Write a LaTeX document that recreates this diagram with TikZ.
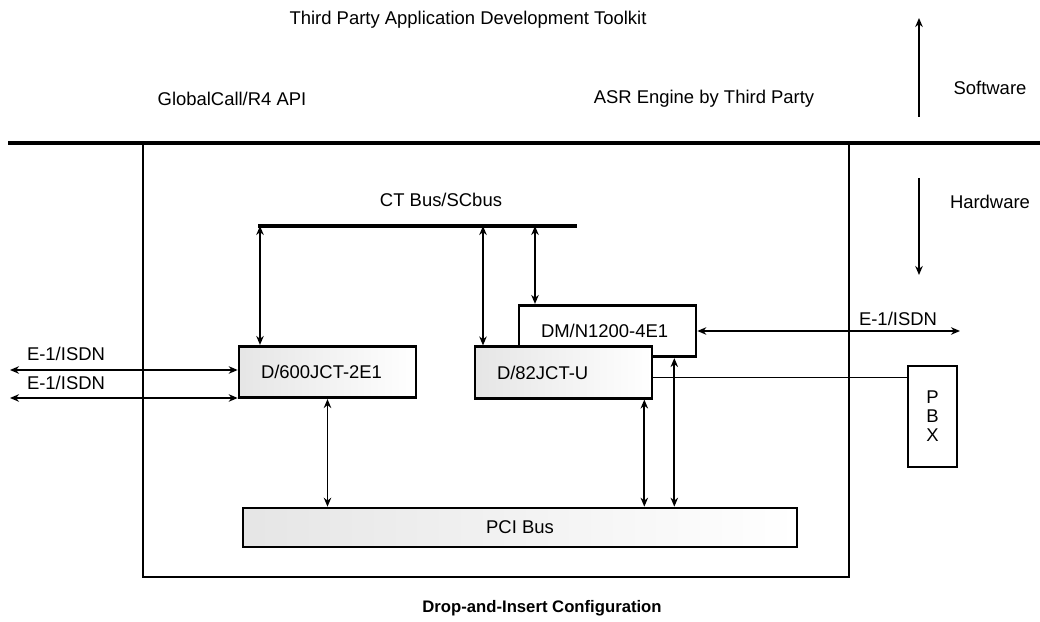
\documentclass[tikz,border=0pt]{standalone}
\usepackage{fontspec}
\setmainfont{Liberation Sans}
\usetikzlibrary{arrows.meta,positioning,calc}
\tikzset{
txt/.style={inner sep=1pt},
host/.style={draw,line width=1.6pt,minimum width=141.2mm,minimum height=86.8mm,inner sep=0pt},
card/.style={draw,line width=1.5pt,inner xsep=4.4mm,inner ysep=0pt,text width=26.6mm,align=left,minimum height=10.3mm},
tint/.style={left color=gray!20,right color=white},
pcibus/.style={draw,line width=1.5pt,minimum width=110.8mm,minimum height=7.8mm,inner sep=0pt,left color=gray!20,right color=white},
pbx/.style={draw,line width=1.5pt,minimum width=9.8mm,minimum height=20.2mm,inner sep=0pt,align=center,font=\fontsize{10.5}{10.8}\selectfont},
sep/.style={line width=2pt},
bus/.style={line width=1.8pt},
wire/.style={line width=1pt},
flow/.style={-{Stealth[length=1.8mm,width=1.5mm]},line width=1.1pt},
link/.style={{Stealth[length=1.8mm,width=1.5mm]}-{Stealth[length=1.8mm,width=1.5mm]},line width=1.1pt}
}
\begin{document}
\begin{tikzpicture}[x=.2mm,y=-.2mm,font=\fontsize{10.5}{12}\selectfont]
\useasboundingbox(0,0)rectangle(1040,622);
\node[host](host)at(496,360){};
\coordinate(sepL)at(8,143);\coordinate(sepR)at(1040,143);
\draw[sep](sepL)--(sepR);
\node[txt](tk)at(468,20){Third Party Application Development Toolkit};
\node[txt](gc)at(232,99){GlobalCall/R4 API};
\node[txt](asr)at(704,99){ASR Engine by Third Party};
\node[txt](sw)at(990,88){Software};
\node[txt](hw)at(990,202){Hardware};
\coordinate(swB)at(919,117);\coordinate(swT)at(919,18);
\coordinate(hwT)at(919,178);\coordinate(hwB)at(919,275);
\draw[flow](swB)--(swT);\draw[flow](hwT)--(hwB);
\node[txt](ctlab)at(441,200){CT Bus/SCbus};
\coordinate(ctL)at(258,226);\coordinate(ctR)at(577,226);
\draw[bus](ctL)--(ctR);
\node[card,fill=white](dmn)at(607.5,331){DM/N1200-4E1};
\node[card,tint](d600)at(327.5,372){D/600JCT-2E1};
\node[card,tint](d82)at(563.5,372.5){D/82JCT-U};
\node[pcibus](pci)at(520,527.5){PCI Bus};
\node[pbx](pbx)at(932.5,416.5){P\\B\\X};
\coordinate(t1)at(260,226);\coordinate(t2)at(483,226);\coordinate(t3)at(535,226);
\draw[link](t1)--(t1|-d600.north);\draw[link](t2)--(t2|-d82.north);\draw[link](t3)--(t3|-dmn.north);
\draw[link](d600.south)--(d600.south|-pci.north);
\draw[link]([xshift=-1.8mm]d82.south east)--([xshift=-1.8mm]d82.south east|-pci.north);
\draw[link]([xshift=-4.6mm]dmn.south east)--([xshift=-4.6mm]dmn.south east|-pci.north);
\coordinate(e1r)at(960,331);
\draw[link](dmn.east)--(e1r);
\node[txt](e1rl)at(898,319){E-1/ISDN};
\draw[wire]([yshift=-1mm]d82.east)--([yshift=-1mm]d82.east-|pbx.west);
\coordinate(e1a)at(10,370);\coordinate(e1b)at(10,398);
\draw[link](e1a)--(e1a-|d600.west);\draw[link](e1b)--(e1b-|d600.west);
\node[txt](e1al)at(66,354){E-1/ISDN};
\node[txt](e1bl)at(66,383){E-1/ISDN};
\node[txt,font=\bfseries\fontsize{9.5}{11}\selectfont](cap)at(542,608){Drop-and-Insert Configuration};
\end{tikzpicture}
\end{document}
